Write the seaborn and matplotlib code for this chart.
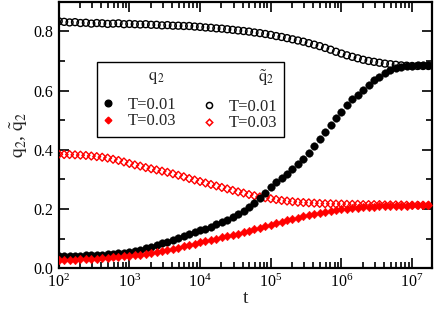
import numpy as np
import pandas as pd
import matplotlib
matplotlib.use("Agg")
import matplotlib.pyplot as plt
import seaborn as sns
from matplotlib.lines import Line2D
from matplotlib.ticker import MultipleLocator, LogLocator, FormatStrFormatter

# sampling times: 13 points per decade from 1e2
t = 10 ** (2 + np.arange(69) / 13)

q2_T001 = [0.042, 0.042, 0.042, 0.043, 0.043, 0.044, 0.044, 0.045, 0.046, 0.047, 0.049, 0.051, 0.053, 0.055,
           0.059, 0.063, 0.068, 0.073, 0.078, 0.084, 0.090, 0.097, 0.103, 0.109, 0.115, 0.121, 0.128,
           0.134, 0.141, 0.148, 0.156, 0.164, 0.173, 0.183, 0.194, 0.207, 0.221, 0.237, 0.255, 0.274,
           0.290, 0.305, 0.320, 0.336, 0.352, 0.370, 0.390, 0.412, 0.436, 0.460, 0.484, 0.506, 0.528,
           0.550, 0.570, 0.586, 0.602, 0.620, 0.634, 0.646, 0.658, 0.668, 0.675, 0.680, 0.683, 0.684,
           0.685, 0.685, 0.685]
q2_T003 = [0.028, 0.028, 0.029, 0.029, 0.030, 0.031, 0.032, 0.033, 0.034, 0.036, 0.037, 0.039, 0.040, 0.042,
           0.044, 0.046, 0.049, 0.051, 0.054, 0.058, 0.062, 0.066, 0.070, 0.074, 0.079, 0.083, 0.088,
           0.092, 0.096, 0.100, 0.104, 0.108, 0.113, 0.117, 0.122, 0.127, 0.132, 0.137, 0.142, 0.147,
           0.152, 0.157, 0.162, 0.167, 0.171, 0.175, 0.180, 0.184, 0.188, 0.191, 0.194, 0.197, 0.199,
           0.201, 0.203, 0.205, 0.206, 0.207, 0.208, 0.209, 0.210, 0.211, 0.211, 0.212, 0.212, 0.213,
           0.213, 0.213, 0.213]
qt2_T001 = [0.834, 0.832, 0.830, 0.831, 0.828, 0.829, 0.826, 0.828, 0.827, 0.825, 0.826, 0.827, 0.824, 0.825,
            0.824, 0.823, 0.824, 0.822, 0.822, 0.820, 0.821, 0.819, 0.819, 0.818, 0.818, 0.816, 0.815,
            0.813, 0.812, 0.810, 0.809, 0.807, 0.805, 0.803, 0.801, 0.799, 0.796, 0.794, 0.791, 0.788,
            0.784, 0.781, 0.777, 0.773, 0.769, 0.765, 0.760, 0.755, 0.750, 0.744, 0.738, 0.731, 0.725,
            0.719, 0.714, 0.709, 0.704, 0.700, 0.697, 0.694, 0.691, 0.689, 0.687, 0.685, 0.684, 0.683,
            0.683, 0.683, 0.683]
qt2_T003 = [0.385, 0.384, 0.384, 0.383, 0.382, 0.381, 0.379, 0.377, 0.375, 0.372, 0.368, 0.364, 0.359, 0.354,
            0.349, 0.345, 0.340, 0.336, 0.332, 0.328, 0.324, 0.319, 0.314, 0.309, 0.303, 0.298, 0.293,
            0.288, 0.283, 0.278, 0.273, 0.268, 0.263, 0.258, 0.254, 0.249, 0.245, 0.241, 0.238, 0.235,
            0.232, 0.229, 0.227, 0.225, 0.223, 0.222, 0.221, 0.220, 0.219, 0.218, 0.218, 0.217, 0.217,
            0.216, 0.216, 0.216, 0.215, 0.215, 0.215, 0.215, 0.214, 0.214, 0.214, 0.214, 0.213, 0.213,
            0.213, 0.213, 0.213]

legend_labels = ["T=0.01", "T=0.03"]

sns.set_style("ticks")
plt.rcParams['font.family'] = ['Liberation Serif', 'DejaVu Serif']
plt.rcParams['mathtext.fontset'] = 'stix'

fig = plt.figure(figsize=(4.36, 3.09), dpi=100)
ax = fig.add_axes([0.1346, 0.1317, 0.8554, 0.8628])

df = pd.DataFrame({"t": t, "q2_1": q2_T001, "q2_3": q2_T003, "qt_1": qt2_T001, "qt_3": qt2_T003})

sns.scatterplot(data=df, x="t", y="qt_1", ax=ax, marker="o", s=25, facecolor="none",
                edgecolor="black", linewidth=1.0, zorder=3)
sns.scatterplot(data=df, x="t", y="qt_3", ax=ax, marker="D", s=16, facecolor="none",
                edgecolor="red", linewidth=1.0, zorder=3)
sns.scatterplot(data=df, x="t", y="q2_1", ax=ax, marker="o", s=30, color="black",
                edgecolor="black", linewidth=0.3, zorder=4)
sns.scatterplot(data=df, x="t", y="q2_3", ax=ax, marker="D", s=19, color="red",
                edgecolor="red", linewidth=0.3, zorder=4)

ax.set_xscale("log")
ax.set_xlim(1e2, 1.89e7)
ax.set_ylim(0, 0.9)
ax.yaxis.set_major_locator(MultipleLocator(0.2))
ax.yaxis.set_minor_locator(MultipleLocator(0.1))
ax.xaxis.set_major_locator(LogLocator(base=10, numticks=10))
ax.xaxis.set_minor_locator(LogLocator(base=10, subs=np.arange(2, 10), numticks=20))
ax.yaxis.set_major_formatter(FormatStrFormatter("%.1f"))

ax.tick_params(which="both", direction="in", top=True, right=True, width=1.2, labelsize=11.5, colors="black")
ax.tick_params(which="major", length=7.5, pad=4)
ax.tick_params(which="minor", length=4)
for sp in ax.spines.values():
    sp.set_linewidth(1.6)
    sp.set_color("black")
    sp.set_visible(True)

ax.set_xlabel("t", fontsize=14, labelpad=-1)
ax.set_ylabel(r"$\mathrm{q}_2$, $\tilde{\mathrm{q}}_2$", fontsize=14, labelpad=2)

blank = Line2D([], [], linestyle="none", marker=None)
h1 = Line2D([], [], linestyle="none", marker="o", markersize=4.8, color="black")
h2 = Line2D([], [], linestyle="none", marker="D", markersize=3.4, color="red")
h3 = Line2D([], [], linestyle="none", marker="o", markersize=4.4, markerfacecolor="none",
            markeredgecolor="black", markeredgewidth=1.1)
h4 = Line2D([], [], linestyle="none", marker="D", markersize=3.3, markerfacecolor="none",
            markeredgecolor="red", markeredgewidth=1.1)
handles = [blank, h1, h2, blank, h3, h4]
labels = ["     $\\mathrm{q}_2$\n ", legend_labels[0], legend_labels[1],
          "       $\\tilde{\\mathrm{q}}_2$\n ", legend_labels[0], legend_labels[1]]
leg = ax.legend(handles, labels, ncol=2, loc="upper left", bbox_to_anchor=(0.102, 0.775),
                borderaxespad=0, fontsize=12, handlelength=0.6, handletextpad=0.93,
                columnspacing=1.6, labelspacing=0.05, borderpad=0.36, fancybox=False,
                framealpha=1, edgecolor="black")
leg.get_frame().set_linewidth(1.0)
for i in (0, 3):
    leg.get_texts()[i].set_linespacing(0.5)

fig.savefig("out.png", dpi=100)
